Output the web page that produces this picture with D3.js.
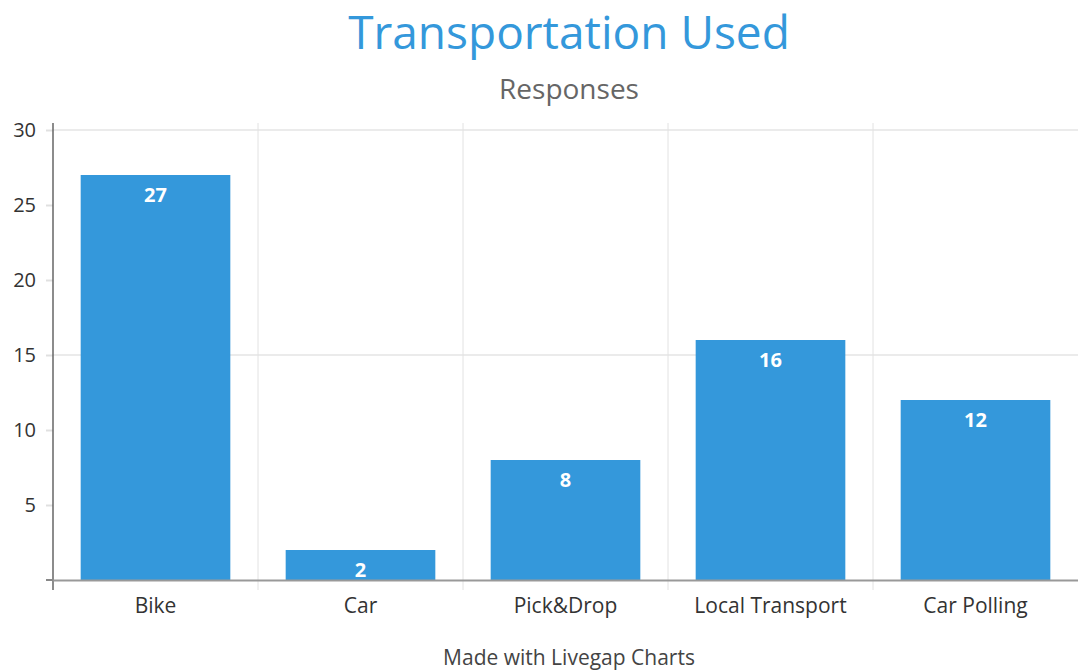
<!DOCTYPE html>
<html>
<head>
<meta charset="utf-8">
<script src="https://cdn.jsdelivr.net/npm/d3@7"></script>
<style>
  body { margin: 0; background: #fff; }
  text { font-family: "Open Sans", sans-serif; }
</style>
</head>
<body>
<svg id="chart" width="1078" height="672"></svg>
<script>
const categories = ["Bike", "Car", "Pick&Drop", "Local Transport", "Car Polling"];
const responses = [27, 2, 8, 16, 12];
const yTicks = [5, 10, 15, 20, 25, 30];
const gridValues = [15, 30];

const svg = d3.select("#chart");
const margin = { top: 130, right: 0, bottom: 92, left: 53 };
const width = 1078 - margin.left - margin.right;
const height = 672 - margin.top - margin.bottom;

const x = d3.scaleBand()
  .domain(categories)
  .range([0, width])
  .paddingInner(0.27)
  .paddingOuter(0.135);

const y = d3.scaleLinear().domain([0, 30]).range([height, 0]);

const g = svg.append("g").attr("transform", `translate(${margin.left},${margin.top})`);

// horizontal grid
g.append("g").selectAll("line")
  .data(gridValues)
  .join("line")
  .attr("x1", 0).attr("x2", width)
  .attr("y1", d => y(d)).attr("y2", d => y(d))
  .attr("stroke", "#ebebeb").attr("stroke-width", 2);

// vertical separators between categories
g.append("g").selectAll("line")
  .data(categories.slice(1))
  .join("line")
  .attr("x1", (d, i) => (i + 1) * width / categories.length)
  .attr("x2", (d, i) => (i + 1) * width / categories.length)
  .attr("y1", -7).attr("y2", height + 10)
  .attr("stroke", "#e2e2e2").attr("stroke-width", 1);

// bars
g.append("g").selectAll("rect")
  .data(responses)
  .join("rect")
  .attr("x", (d, i) => x(categories[i]))
  .attr("y", d => y(d))
  .attr("width", x.bandwidth())
  .attr("height", d => height - y(d))
  .attr("fill", "#3498db");

g.append("g").selectAll("text")
  .data(responses)
  .join("text")
  .attr("x", (d, i) => x(categories[i]) + x.bandwidth() / 2)
  .attr("y", d => y(d) + 27)
  .attr("text-anchor", "middle")
  .attr("fill", "#fff")
  .attr("font-size", 20)
  .attr("font-weight", "bold")
  .text(d => d);

// y axis
const yAxis = g.append("g")
  .call(d3.axisLeft(y).tickValues(yTicks).tickSize(7).tickPadding(10));
yAxis.select(".domain").remove();
yAxis.selectAll(".tick line").attr("stroke", "#e0e0e0").attr("stroke-width", 2);
yAxis.selectAll(".tick text").attr("font-size", 20).attr("fill", "#333").attr("dy", "0.3em");
yAxis.append("line")
  .attr("x1", 0).attr("x2", 0).attr("y1", -7).attr("y2", height + 10)
  .attr("stroke", "#666").attr("stroke-width", 1.5);
// 0 tick
yAxis.append("line")
  .attr("x1", -7).attr("x2", 0).attr("y1", height).attr("y2", height)
  .attr("stroke", "#888").attr("stroke-width", 2);

// x axis
const xAxis = g.append("g")
  .attr("transform", `translate(0,${height})`)
  .call(d3.axisBottom(x).tickSize(0).tickPadding(18));
xAxis.select(".domain").attr("stroke", "#999").attr("stroke-width", 2);
xAxis.selectAll(".tick text").attr("font-size", 21).attr("fill", "#333");

// titles
svg.append("text")
  .attr("x", 569).attr("y", 49)
  .attr("text-anchor", "middle")
  .attr("font-size", 46)
  .attr("fill", "#3498db")
  .text("Transportation Used");

svg.append("text")
  .attr("x", 569).attr("y", 99)
  .attr("text-anchor", "middle")
  .attr("font-size", 28)
  .attr("fill", "#666")
  .text("Responses");

svg.append("text")
  .attr("x", 569).attr("y", 665)
  .attr("text-anchor", "middle")
  .attr("font-size", 21)
  .attr("fill", "#444")
  .text("Made with Livegap Charts");
</script>
</body>
</html>
